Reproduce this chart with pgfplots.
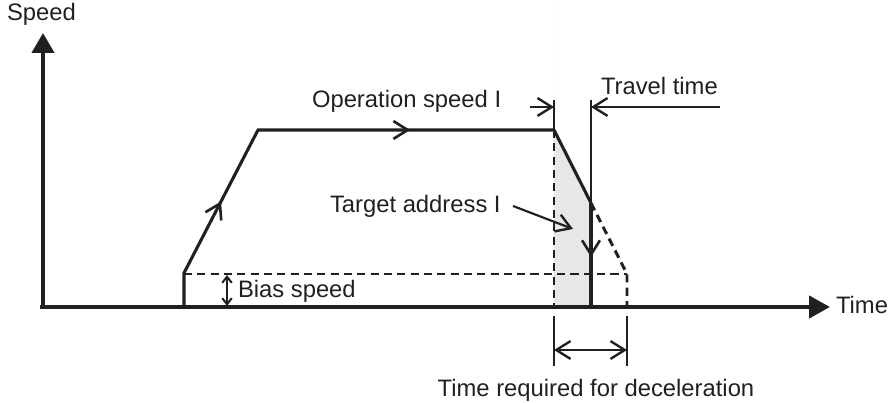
\documentclass[border=0pt]{standalone}
\usepackage{pgfplots}
\pgfplotsset{compat=1.18}
\usepackage{fontspec}
\setmainfont{Liberation Sans}
\usetikzlibrary{arrows.meta,decorations.markings}
\definecolor{ink}{HTML}{231F20}
\definecolor{shade}{HTML}{E6E7E8}
\tikzset{lbl/.style={font=\fontsize{10}{12}\selectfont, text=ink, inner sep=0pt, outer sep=0pt}}
\begin{document}
\begin{tikzpicture}
\begin{axis}[
  scale only axis, width=374pt, height=169.34pt,
  xmin=0, xmax=890, ymin=0, ymax=403, y dir=reverse,
  hide axis, clip=false,
  barb/.style={-{Straight Barb[length=6pt,width=7.5pt,line width=1pt]}},
]
% shaded travel area
\addplot[draw=none, fill=shade] coordinates {(554,130) (591,203) (591,307) (554,307)} \closedcycle;
% dashed lines
\addplot[ink, line width=1.25pt, dash pattern=on 3.4pt off 2.2pt] coordinates {(184,274) (627,274)};
\addplot[ink, line width=1.25pt, dash pattern=on 3.4pt off 2.2pt] coordinates {(554,130) (554,307)};
\addplot[ink, line width=1.25pt, dash pattern=on 3.4pt off 2.2pt] coordinates {(591,203) (627,274) (627,307)};
% speed profile
\addplot[ink, line width=1.3pt, line join=miter,
  postaction={decorate},
  decoration={markings,
    mark=at position 0.200 with {\arrow{Straight Barb[length=6pt,width=7.5pt,line width=1.1pt]}},
    mark=at position 0.606 with {\arrow{Straight Barb[length=6pt,width=7.5pt,line width=1.1pt]}}}]
  coordinates {(184,307) (184,273) (258,130) (554,130) (591,203)};
% travel vertical line with downward arrow
\addplot[ink, line width=0.9pt] coordinates {(591,100) (591,204)};
\addplot[ink, line width=1.3pt,
  postaction={decorate},
  decoration={markings,
    mark=at position 0.52 with {\arrow{Straight Barb[length=6pt,width=7.5pt,line width=1.1pt]}}}]
  coordinates {(591,203) (591,307)};
\addplot[ink, line width=0.9pt] coordinates {(554,100) (554,130)};
% travel time dimension arrows
\addplot[ink, line width=0.9pt, barb] coordinates {(530,107) (554,107)};
\addplot[ink, line width=0.9pt, barb] coordinates {(720,107) (591,107)};
% time required for deceleration
\addplot[ink, line width=0.9pt] coordinates {(554,316) (554,366)};
\addplot[ink, line width=0.9pt] coordinates {(627,316) (627,366)};
\addplot[ink, line width=0.9pt, {Straight Barb[length=6pt,width=7.5pt,line width=1pt]}-{Straight Barb[length=6pt,width=7.5pt,line width=1pt]}] coordinates {(554,350) (627,350)};
% bias speed arrow
\addplot[ink, line width=0.85pt, {Straight Barb[length=2.6pt,width=4pt]}-{Straight Barb[length=2.6pt,width=4pt]}] coordinates {(227,275) (227,306)};
% target address arrow
\addplot[ink, line width=0.9pt, barb] coordinates {(513,206) (573,229)};
% axes
\addplot[ink, line width=1.9pt, -{Triangle[length=8.4pt,width=9.2pt]}] coordinates {(43,308) (43,33)};
\addplot[ink, line width=1.9pt, -{Triangle[length=8.8pt,width=9.2pt]}] coordinates {(40,307) (830,307)};
% labels
\node[lbl, anchor=base] at (axis cs:41.5,21) {Speed};
\node[lbl, anchor=base west] at (axis cs:836,314) {Time};
\node[lbl, anchor=base west] at (axis cs:312,108) {Operation speed I};
\node[lbl, anchor=base west] at (axis cs:601,95) {Travel time};
\node[lbl, anchor=base west] at (axis cs:330,213) {Target address I};
\node[lbl, anchor=base west] at (axis cs:238,298) {Bias speed};
\node[lbl, anchor=base] at (axis cs:596,397) {Time required for deceleration};
\end{axis}
\pgfresetboundingbox
\useasboundingbox (current axis.south west) rectangle (current axis.north east);
\end{tikzpicture}
\end{document}
